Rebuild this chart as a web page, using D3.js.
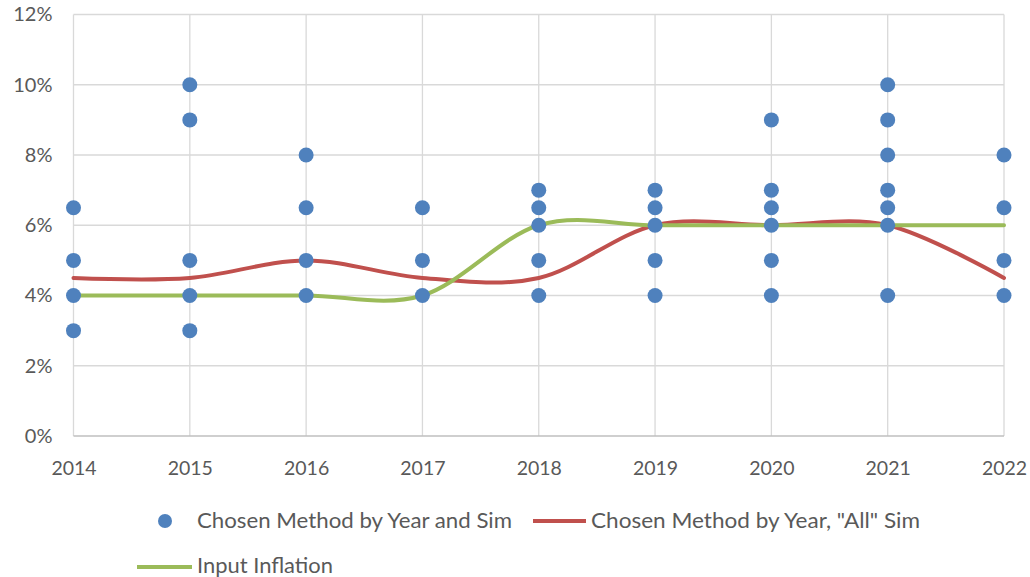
<!DOCTYPE html>
<html><head><meta charset="utf-8">
<script src="https://cdn.jsdelivr.net/npm/d3@7"></script>
<style>body{margin:0;background:#fff}svg{display:block}text{font-family:Lato,"Open Sans",sans-serif;fill:#595959}</style>
</head><body><svg id="c" width="1030" height="577"></svg>
<script>
const years = [2014,2015,2016,2017,2018,2019,2020,2021,2022];
const yTicks = [0,0.02,0.04,0.06,0.08,0.10,0.12];
const simYears = [2014,2014,2014,2014, 2015,2015,2015,2015,2015, 2016,2016,2016,2016, 2017,2017,2017, 2018,2018,2018,2018,2018, 2019,2019,2019,2019,2019, 2020,2020,2020,2020,2020,2020, 2021,2021,2021,2021,2021,2021,2021, 2022,2022,2022,2022];
const simValues = [0.065,0.05,0.04,0.03, 0.10,0.09,0.05,0.04,0.03, 0.08,0.065,0.05,0.04, 0.065,0.05,0.04, 0.07,0.065,0.06,0.05,0.04, 0.07,0.065,0.06,0.05,0.04, 0.09,0.07,0.065,0.06,0.05,0.04, 0.10,0.09,0.08,0.07,0.065,0.06,0.04, 0.08,0.065,0.05,0.04];
const allSim = [0.045,0.045,0.05,0.045,0.045,0.06,0.06,0.06,0.045];
const inputInflation = [0.04,0.04,0.04,0.04,0.06,0.06,0.06,0.06,0.06];
const legendLabels = ["Chosen Method by Year and Sim", "Chosen Method by Year, \"All\" Sim", "Input Inflation"];

const svg = d3.select("#c");
const x = d3.scaleLinear().domain([2014,2022]).range([73.5,1004]);
const y = d3.scaleLinear().domain([0,0.12]).range([436,14.5]);
const font = "Lato,'Open Sans',sans-serif";

// gridlines
svg.append("g").selectAll("line").data(yTicks.slice(1)).join("line")
  .attr("x1",x(2014)).attr("x2",x(2022)).attr("y1",d=>y(d)).attr("y2",d=>y(d))
  .attr("stroke","#d9d9d9").attr("stroke-width",1.3);
svg.append("g").selectAll("line").data(years).join("line")
  .attr("x1",d=>x(d)).attr("x2",d=>x(d)).attr("y1",y(0)).attr("y2",y(0.12))
  .attr("stroke","#d9d9d9").attr("stroke-width",1.3);
svg.append("line").attr("x1",x(2014)).attr("x2",x(2022)).attr("y1",y(0)).attr("y2",y(0))
  .attr("stroke","#bfbfbf").attr("stroke-width",1.5);

// axes labels
const yAxis = d3.axisLeft(y).tickValues(yTicks).tickFormat(d3.format(".0%")).tickSize(0).tickPadding(21);
const gy = svg.append("g").attr("transform",`translate(${x(2014)},0)`).call(yAxis);
gy.select(".domain").remove();
gy.selectAll("text").attr("font-size",20).attr("fill","#595959").attr("font-family",font);
const xAxis = d3.axisBottom(x).tickValues(years).tickFormat(d3.format("d")).tickSize(0).tickPadding(25);
const gx = svg.append("g").attr("transform",`translate(0,${y(0)})`).call(xAxis);
gx.select(".domain").remove();
gx.selectAll("text").attr("font-size",19.5).attr("fill","#595959").attr("font-family",font);

// lines
const line = d3.line().curve(d3.curveCardinal.tension(0)).x((d,i)=>x(years[i])).y(d=>y(d));
svg.append("path").attr("d",line(allSim)).attr("fill","none").attr("stroke","#c0504d").attr("stroke-width",4).attr("stroke-linecap","round");
svg.append("path").attr("d",line(inputInflation)).attr("fill","none").attr("stroke","#9bbb59").attr("stroke-width",4).attr("stroke-linecap","round");

// points
svg.append("g").selectAll("circle").data(simValues).join("circle")
  .attr("cx",(d,i)=>x(simYears[i])).attr("cy",d=>y(d)).attr("r",7.5).attr("fill","#4f81bd");

// legend
const lg = svg.append("g").attr("font-size",21);
lg.append("circle").attr("cx",165).attr("cy",521).attr("r",7).attr("fill","#4f81bd");
lg.append("text").attr("x",197).attr("y",528).attr("textLength",315).attr("lengthAdjust","spacingAndGlyphs").text(legendLabels[0]);
lg.append("line").attr("x1",533).attr("x2",586).attr("y1",521).attr("y2",521).attr("stroke","#c0504d").attr("stroke-width",4);
lg.append("text").attr("x",591).attr("y",528).attr("textLength",329).attr("lengthAdjust","spacingAndGlyphs").text(legendLabels[1]);
lg.append("line").attr("x1",137).attr("x2",192).attr("y1",567).attr("y2",567).attr("stroke","#9bbb59").attr("stroke-width",4);
lg.append("text").attr("x",197).attr("y",573).attr("textLength",136).attr("lengthAdjust","spacingAndGlyphs").text(legendLabels[2]);
</script></body></html>
